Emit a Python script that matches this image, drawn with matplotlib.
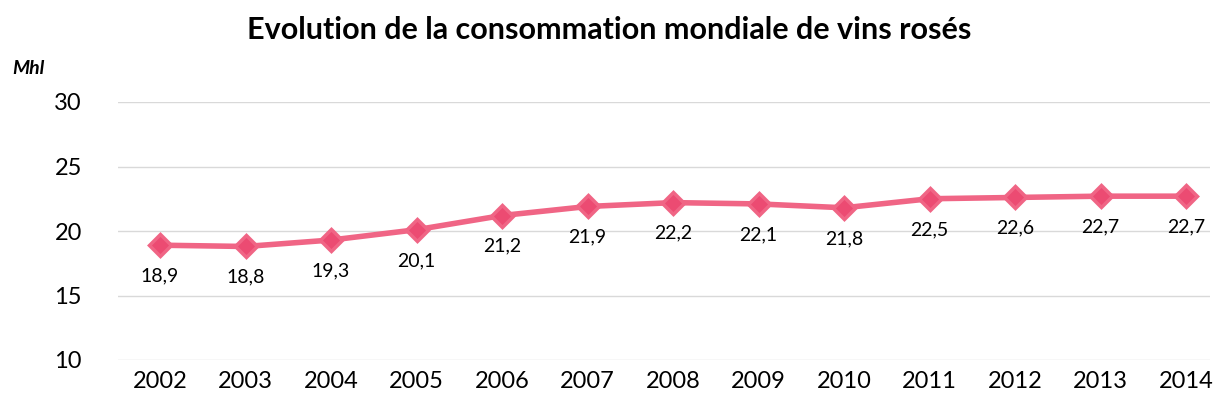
import matplotlib.pyplot as plt

annees = ["2002", "2003", "2004", "2005", "2006", "2007", "2008",
          "2009", "2010", "2011", "2012", "2013", "2014"]
conso = [18.9, 18.8, 19.3, 20.1, 21.2, 21.9, 22.2, 22.1, 21.8, 22.5, 22.6, 22.7, 22.7]
yticks = [10, 15, 20, 25, 30]

plt.rcParams['font.family'] = ['Lato', 'DejaVu Sans']

fig = plt.figure(figsize=(12.18, 4.08), dpi=100)
ax = fig.add_axes([118/1218, 1 - 360/408, (1210-118)/1218, (360-102)/408])

x = list(range(len(annees)))
ax.plot(x, conso, color='#F06585', lw=4, solid_capstyle='round', zorder=3,
        marker='D', ms=11, mfc='#EC4B72', mec='#F06585', mew=2.5)

for xi, v in zip(x, conso):
    ax.annotate(("%.1f" % v).replace('.', ','), (xi, v), xytext=(0, -16),
                textcoords='offset points', ha='center', va='top', fontsize=14)

ax.set_ylim(10, 30)
ax.set_xlim(-42/85.5, 12 + 24/85.5)
ax.set_yticks(yticks)
ax.set_xticks(x)
ax.set_xticklabels(annees)
ax.tick_params(length=0, labelsize=17, pad=8)
ax.tick_params(axis='y', pad=26)
ax.grid(axis='y', color='#D9D9D9', lw=1)
ax.set_axisbelow(True)
for s in ax.spines.values():
    s.set_visible(False)

fig.text(0.5, 1 - 30/408, "Evolution de la consommation mondiale de vins rosés",
         ha='center', va='center', fontsize=22, fontweight='bold')
fig.text(12/1218, 1 - 68/408, "Mhl", ha='left', va='center', fontsize=14,
         fontweight='bold', fontstyle='italic')

fig.savefig("out.png")
